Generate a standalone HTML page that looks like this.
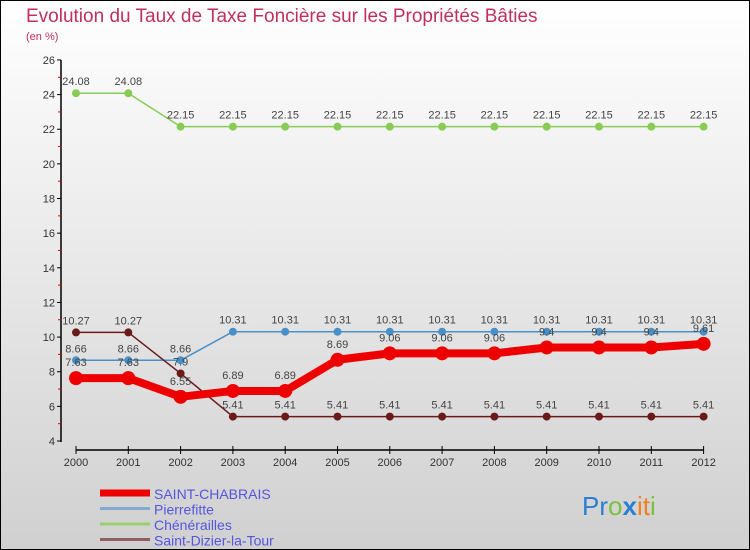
<!DOCTYPE html>
<html><head><meta charset="utf-8"><style>
body{margin:0}
#c{width:750px;height:550px;position:relative;overflow:hidden;background:linear-gradient(#ffffff,#d0d0d0);box-sizing:border-box;border:1px solid #000;font-family:"Liberation Sans",sans-serif}
</style></head><body>
<div id="c">
<svg id="s" width="750" height="550" style="position:absolute;left:-1px;top:-1px">
<text x="26" y="22" font-size="19" fill="#c0305a">Evolution du Taux de Taxe Foncière sur les Propriétés Bâties</text>
<text x="26" y="40" font-size="11" fill="#c0305a">(en %)</text>
<text x="582" y="515" font-size="26" fill="#2a7fd0">Pr<tspan fill="#7ac142">o</tspan><tspan fill="#2a7fd0" font-weight="bold">x</tspan><tspan fill="#f08020">it</tspan><tspan fill="#7ac142">i</tspan></text>
</svg>
</div>
<script>
const years=[2000,2001,2002,2003,2004,2005,2006,2007,2008,2009,2010,2011,2012];
const yTicks=[4,6,8,10,12,14,16,18,20,22,24,26];
const saintChabrais=[7.63,7.63,6.55,6.89,6.89,8.69,9.06,9.06,9.06,9.4,9.4,9.4,9.61];
const pierrefitte=[8.66,8.66,8.66,10.31,10.31,10.31,10.31,10.31,10.31,10.31,10.31,10.31,10.31];
const chenerailles=[24.08,24.08,22.15,22.15,22.15,22.15,22.15,22.15,22.15,22.15,22.15,22.15,22.15];
const saintDizier=[10.27,10.27,7.9,5.41,5.41,5.41,5.41,5.41,5.41,5.41,5.41,5.41,5.41];
const seriesNames=["SAINT-CHABRAIS","Pierrefitte","Chénérailles","Saint-Dizier-la-Tour"];
const NS="http://www.w3.org/2000/svg";
const svg=document.getElementById('s');
const X=i=>76+i*52.3;
const Y=v=>441-(v-4)*17.32;
function el(t,a,p){const e=document.createElementNS(NS,t);for(const k in a)e.setAttribute(k,a[k]);(p||svg).appendChild(e);return e;}
// axes
const ax=el('line',{x1:61,y1:60,x2:61,y2:442,stroke:'#000','stroke-width':1.5});


const xa=el('line',{x1:X(0),y1:450,x2:X(12),y2:450,stroke:'#000','stroke-width':1.5});


yTicks.forEach(v=>{
  el('line',{x1:57,x2:61,y1:Y(v),y2:Y(v),stroke:'#000'});
  const t=el('text',{x:55,y:Y(v)+4,'font-size':11,fill:'#333','text-anchor':'end'});t.textContent=v;
  
  
  if(v<26) el('line',{x1:58,x2:61,y1:Y(v+1),y2:Y(v+1),stroke:'#e00'});
});
years.forEach((yr,i)=>{
  el('line',{x1:X(i),x2:X(i),y1:446,y2:454,stroke:'#000'});
  const t=el('text',{x:X(i),y:466,'font-size':11,fill:'#333','text-anchor':'middle'});t.textContent=yr;
  
  
});
function series(data,color,w,r,name,labelDy){
  const g=el('g',{});
  
  
  el('polyline',{points:data.map((v,i)=>X(i)+','+Y(v)).join(' '),fill:'none',stroke:color,'stroke-width':w,'stroke-linejoin':'round'},g);
  data.forEach((v,i)=>{
    const c=el('circle',{cx:X(i),cy:Y(v),r:r,fill:color},g);
    
    
    const t=el('text',{x:X(i),y:Y(v)+labelDy,'font-size':11,fill:'#444','text-anchor':'middle'},g);
    t.textContent=String(v);
    
    
  });
}
series(chenerailles,'#88cc55',1.5,4,'chenerailles-series',-8);
series(pierrefitte,'#4a90c8',1.5,4,'pierrefitte-series',-8);
series(saintDizier,'#6b1a1a',1.5,4,'saint-dizier-series',-8);
series(saintChabrais,'#ee0000',8,7,'saint-chabrais-series',-12);
const colors=['#ee0000','#80aad0','#99d070','#906060'];
const widths=[7,3,3,3];
seriesNames.forEach((n,i)=>{
  const y=493+i*15.5;
  const l=el('line',{x1:100,x2:150,y1:y,y2:y,stroke:colors[i],'stroke-width':widths[i]});
  
  
  const t=el('text',{x:154,y:y+6,'font-size':14,fill:'#5555dd'});t.textContent=n;
  
  
});
</script>
</body></html>
